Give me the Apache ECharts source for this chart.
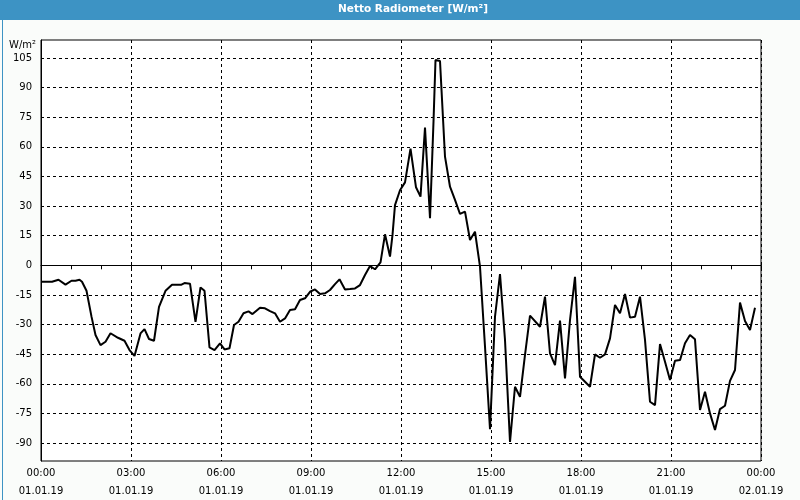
<!DOCTYPE html>
<html>
<head>
<meta charset="utf-8">
<script src="https://cdn.jsdelivr.net/npm/echarts@6/dist/echarts.min.js"></script>
<style>
html,body{margin:0;padding:0;background:#fafcfa;}
#chart{width:800px;height:500px;}
</style>
</head>
<body>
<div id="chart"></div>
<script>
// Time of day in minutes since 01.01.19 00:00
const minutes = [0,22,35,49,61,69,77,82,91,101,109,119,129,139,154,167,177,187,199,207,216,226,236,249,262,281,287,298,309,319,327,337,347,358,367,377,386,395,405,415,423,438,448,458,468,478,488,498,508,518,528,538,548,558,568,578,588,597,608,618,628,638,648,658,668,679,688,698,703,708,718,728,739,750,759,768,778,785,789,798,808,818,828,838,848,858,868,878,888,898,908,918,928,938,948,958,968,978,998,1008,1018,1028,1038,1048,1058,1068,1078,1098,1108,1118,1128,1138,1148,1158,1168,1178,1188,1198,1208,1218,1228,1238,1248,1258,1268,1278,1288,1298,1308,1318,1328,1338,1348,1358,1368,1378,1388,1398,1408,1418,1428];
// Netto radiometer values, W/m²
const values = [-8.3,-8.3,-7.3,-9.8,-7.8,-7.8,-7.3,-8.3,-12.9,-26,-35.3,-40.4,-38.7,-34.4,-36.7,-38.2,-42.9,-45.9,-34.5,-32.3,-37.3,-38.2,-21,-12.9,-9.8,-9.8,-9,-9.3,-28.6,-11.2,-12.9,-41.6,-42.9,-39.5,-42.6,-42,-30.2,-28.6,-24.3,-23.3,-24.7,-21.5,-21.8,-23.2,-24.3,-28.6,-26.9,-22.6,-22.3,-17.6,-16.7,-13.4,-12.2,-14.5,-14.2,-12.5,-9.5,-7.1,-12.2,-12,-11.7,-10,-4.9,-0.4,-2,1.5,15.7,4.4,15.4,30.5,38,42,59.1,39.5,34.8,69.7,23.8,72.7,104,103.5,55,39.8,33.1,26,27.2,12.8,17,-0.7,-41.2,-83,-26,-4.4,-37.8,-89.4,-61.5,-66.6,-45.4,-25.5,-31.1,-15.9,-44.6,-50.5,-28,-57.3,-27.7,-5.8,-56.4,-61.5,-45.1,-46.8,-45.1,-37,-20.1,-24.3,-14.5,-26.5,-26,-15.9,-37.8,-69.1,-70.8,-39.9,-48.8,-58.1,-48.3,-48,-39.5,-35.3,-37.5,-73.3,-64,-75,-83.4,-72.8,-71.1,-58.5,-53,-18.9,-28.2,-32.8,-21.5];
// Axis labels
const yTicks = [-90,-75,-60,-45,-30,-15,0,15,30,45,60,75,90,105];
const xTimeLabels = ['00:00','03:00','06:00','09:00','12:00','15:00','18:00','21:00','00:00'];
const xDateLabels = ['01.01.19','01.01.19','01.01.19','01.01.19','01.01.19','01.01.19','01.01.19','01.01.19','02.01.19'];
const titleText = 'Netto Radiometer [W/m²]';
const unitText = 'W/m²';

const chart = echarts.init(document.getElementById('chart'), null, {renderer:'canvas'});
const font = 'DejaVu Sans';
const seriesData = minutes.map((m,i)=>[m, values[i]]);

chart.setOption({
  backgroundColor: '#fafcfa',
  animation: false,
  graphic: [
    {type:'rect', left:0, top:0, shape:{width:800, height:20}, style:{fill:'#3d93c4'}, z:-1},
    {type:'rect', left:0, top:0, shape:{width:799, height:499}, style:{fill:null, stroke:'#3d93c4', lineWidth:1}, z:-1},
    {type:'text', left:9, top:40, style:{text:unitText, fill:'#000', font:'10px "DejaVu Sans"'}}
  ],
  title: [
    {text: titleText, left: 413, top: 4, textAlign:'center', padding:0,
     textStyle:{color:'#ffffff', fontFamily:font, fontWeight:'bold', fontSize:10.5}}
  ],
  grid: {left:41, right:39, top:40, bottom:39, show:true, borderColor:'#000', borderWidth:1, backgroundColor:'#ffffff'},
  xAxis: {
    type:'value', min:0, max:1440, interval:180,
    axisLine:{show:true, lineStyle:{color:'#000', width:1}},
    axisTick:{show:true, length:4, lineStyle:{color:'#000'}},
    minorTick:{show:true, splitNumber:3, length:4, lineStyle:{color:'#000'}},
    splitLine:{show:true, lineStyle:{color:'#000', type:[3,3], width:1}},
    axisLabel:{
      showMinLabel:true, showMaxLabel:true, margin:3, lineHeight:18,
      color:'#000', fontFamily:font, fontSize:10,
      formatter:(v)=>{const i=Math.round(v/180); return xTimeLabels[i]+'\n'+xDateLabels[i];}
    }
  },
  yAxis: {
    type:'value', min:-99.1, max:114.1,
    axisLine:{show:true, lineStyle:{color:'#000', width:1}},
    axisTick:{show:false, customValues: yTicks},
    splitLine:{show:true, lineStyle:{color:'#000', type:[3,3], width:1}},
    axisLabel:{customValues: yTicks, margin:9, color:'#000', fontFamily:font, fontSize:10}
  },
  series: [{
    type:'line', data: seriesData, showSymbol:false, symbol:'none',
    lineStyle:{color:'#000', width:2}, itemStyle:{color:'#000'}
  }]
});
</script>
</body>
</html>
